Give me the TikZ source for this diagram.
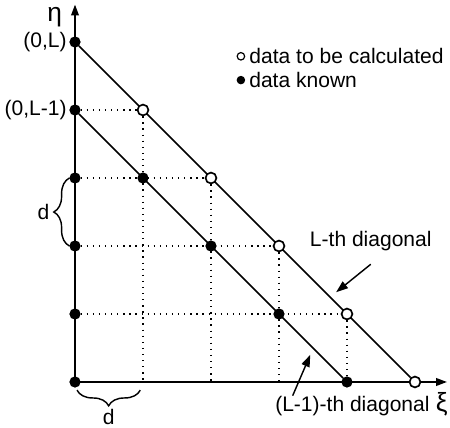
\documentclass[tikz,border=0pt]{standalone}
\usepackage{fontspec}
\setmainfont{Liberation Sans}
\usetikzlibrary{positioning,backgrounds,decorations.pathreplacing,arrows.meta}

\begin{document}
\begin{tikzpicture}[font=\fontsize{8.8}{10}\selectfont,
  known/.style={circle, draw, fill=black, inner sep=0pt, minimum size=0.15cm},
  unknown/.style={circle, draw, fill=white, line width=0.7pt, inner sep=0pt, minimum size=0.16cm},
  legend/.style={minimum size=0.11cm},
  axis/.style={line width=0.65pt, -{Triangle[length=4.5pt, width=3.2pt]}},
  diag/.style={line width=0.65pt},
  gridline/.style={dotted, line width=0.55pt},
  pointer/.style={line width=0.6pt, -{Triangle[length=5pt, width=3.5pt]}},
  dbrace/.style={decorate, decoration={brace, amplitude=0.23cm}, line width=0.6pt},
  greek/.style={font=\fontsize{11}{12}\selectfont}]

\useasboundingbox (-1.103,-0.676) rectangle (5.515,5.618);

% points on the eta axis
\node[known] (y0) at (0,0) {};
\node[known] (y1) at (0,1) {};
\node[known] (y2) at (0,2) {};
\node[known] (y3) at (0,3) {};
\node[known] (y4) at (0,4) {};
\node[known] (y5) at (0,5) {};

% (L-1)-th diagonal, known data
\node[known] (a1) at (1,3) {};
\node[known] (a2) at (2,2) {};
\node[known] (a3) at (3,1) {};
\node[known] (a4) at (4,0) {};

% L-th diagonal, data to be calculated
\node[unknown] (b1) at (1,4) {};
\node[unknown] (b2) at (2,3) {};
\node[unknown] (b3) at (3,2) {};
\node[unknown] (b4) at (4,1) {};
\node[unknown] (b5) at (5,0) {};

\coordinate (x1) at (1,0);
\coordinate (x2) at (2,0);
\coordinate (x3) at (3,0);
\coordinate (etatip) at (0,5.55);
\coordinate (xitip) at (5.47,0);

\begin{scope}[on background layer]
\draw[axis] (y0.center) -- (etatip);
\draw[axis] (y0.center) -- (xitip);
\draw[diag] (y5) -- (b5);
\draw[diag] (y4) -- (a4);
\draw[gridline] (y4) -- (b1);
\draw[gridline] (y3) -- (b2);
\draw[gridline] (y2) -- (b3);
\draw[gridline] (y1) -- (b4);
\draw[gridline] (b1) -- (x1);
\draw[gridline] (b2) -- (x2);
\draw[gridline] (b3) -- (x3);
\draw[gridline] (b4) -- (a4);
\end{scope}

% axis labels
\node[greek] (eta) at (-0.30,5.36) {η};
\node[greek, anchor=west, inner sep=0pt] (xi) at (5.30,-0.33) {ξ};
\node[left=0pt of y5, inner sep=1pt] (labL) {(0,L)};
\node[left=0pt of y4, inner sep=1pt] (labLm) {(0,L-1)};

% legend
\node[unknown, legend, line width=0.5pt] (legopen) at (2.44,4.79) {};
\node[right=0.02cm of legopen, inner sep=1pt] (legopentext) {data to be calculated};
\node[known, legend] (legknown) at (2.44,4.44) {};
\node[right=0.02cm of legknown, inner sep=1pt] (legknowntext) {data known};

% diagonal labels
\node (lthlabel) at (4.35,2.07) {L-th diagonal};
\coordinate (lthtip) at (3.84,1.32);
\draw[pointer] ([yshift=-2pt]lthlabel.south) -- (lthtip);

\node (lmlabel) at (4.08,-0.35) {(L-1)-th diagonal};
\coordinate (lmtip) at (3.46,0.40);
\draw[pointer] ([shift={(0.38,-0.12)}]lmlabel.north west) -- (lmtip);

% spacing d
\draw[dbrace] (y2.west) -- (y3.west) node[midway, left=0.25cm, inner sep=1pt] {d};
\draw[dbrace] ([shift={(-0.04,-0.12)}]x1) -- ([shift={(0.03,-0.12)}]y0.center)
  node[midway, below=0.24cm, inner sep=1pt] {d};
\end{tikzpicture}
\end{document}
